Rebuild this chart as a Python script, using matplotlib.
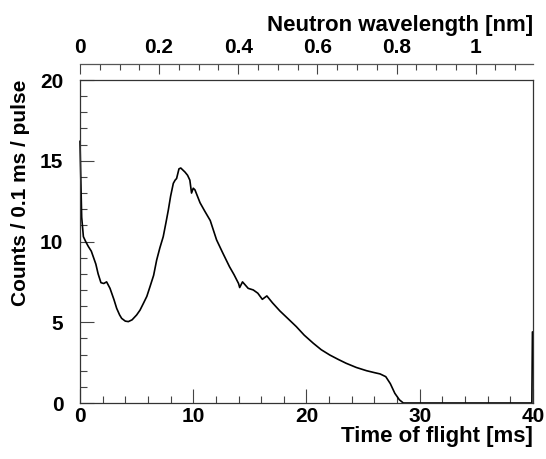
import matplotlib
matplotlib.use('Agg')
import matplotlib.pyplot as plt
from matplotlib.ticker import MultipleLocator

plt.rcParams['font.family'] = ['Liberation Sans', 'DejaVu Sans']
plt.rcParams['font.weight'] = 'bold'

# time of flight [ms] and counts / 0.1 ms / pulse
tof = [0, 0.1, 0.15, 0.3, 0.5, 0.73, 1.0, 1.17, 1.4, 1.6, 1.85, 2.1, 2.35, 2.65,
       3.0, 3.24, 3.5, 3.68, 4.0, 4.27, 4.6, 5.0, 5.3, 5.6, 5.9, 6.18, 6.5, 6.77,
       7.05, 7.35, 7.6, 7.8, 8.0, 8.24, 8.4, 8.53, 8.74, 8.9, 9.27, 9.5, 9.7, 9.85,
       10.0, 10.15, 10.6, 11.0, 11.5, 12.06, 12.6, 13.2, 13.6, 14.0, 14.1, 14.35,
       14.85, 15.3, 15.7, 16.1, 16.5, 17.0, 17.65, 18.4, 19.1, 19.8, 20.6, 21.3,
       22.06, 22.8, 23.5, 24.4, 25.3, 26.0, 26.5, 27.0, 27.4, 27.8, 28.2, 28.55,
       30, 35, 39.9, 39.95, 40]
counts = [16.2, 13.0, 11.5, 10.3, 10.0, 9.7, 9.4, 9.06, 8.6, 8.0, 7.45, 7.4, 7.5, 7.1,
          6.4, 5.86, 5.45, 5.24, 5.07, 5.04, 5.15, 5.45, 5.75, 6.17, 6.6, 7.2, 7.9, 8.85,
          9.6, 10.3, 11.2, 11.95, 12.8, 13.6, 13.8, 13.9, 14.5, 14.55, 14.3, 14.1, 13.8, 13.0,
          13.3, 13.2, 12.4, 11.9, 11.3, 10.1, 9.3, 8.44, 7.95, 7.4, 7.15, 7.5,
          7.1, 7.0, 6.8, 6.42, 6.63, 6.2, 5.7, 5.2, 4.73, 4.2, 3.7, 3.3,
          2.97, 2.7, 2.46, 2.2, 2.0, 1.88, 1.8, 1.63, 1.2, 0.6, 0.2, 0.0,
          0.0, 0.0, 0.0, 4.4, 4.4]

lam_max = 1.145  # wavelength [nm] at 40 ms


def to_lam(t):
    return t * lam_max / 40.0


def to_tof(l):
    return l * 40.0 / lam_max


fig = plt.figure(figsize=(5.46, 4.59), dpi=100)
ax = fig.add_axes([0.1465, 0.122, 0.8297, 0.7037])

ax.plot(tof, counts, color='black', lw=1.2, clip_on=False)

ax.set_xlim(0, 40)
ax.set_ylim(0, 20)
ax.xaxis.set_major_locator(MultipleLocator(10))
ax.xaxis.set_minor_locator(MultipleLocator(2))
ax.yaxis.set_major_locator(MultipleLocator(5))
ax.yaxis.set_minor_locator(MultipleLocator(1))
ax.tick_params(which='both', direction='in', top=False, right=False,
               labelsize=15, color='#444444', width=0.8)
ax.tick_params(which='major', length=10)
ax.tick_params(which='minor', length=5)
ax.tick_params(axis='x', pad=3)
ax.tick_params(axis='y', pad=12)
for s in ax.spines.values():
    s.set_linewidth(0.9)
    s.set_color('#333333')

ax.set_xlabel('Time of flight [ms]', fontsize=16, fontweight='bold', loc='right', labelpad=0)
ax.set_ylabel('Counts / 0.1 ms / pulse', fontsize=15, fontweight='bold', loc='top', labelpad=7)

top = ax.secondary_xaxis(1.05, functions=(to_lam, to_tof))
top.xaxis.set_major_locator(MultipleLocator(0.2))
top.xaxis.set_minor_locator(MultipleLocator(0.05))
top.tick_params(which='both', direction='in', labelsize=15, color='#444444', width=0.8, pad=5)
top.tick_params(which='major', length=7)
top.tick_params(which='minor', length=4)
top.spines['top'].set_linewidth(0.9)
top.spines['top'].set_color('#555555')
top.set_xticks([0, 0.2, 0.4, 0.6, 0.8, 1.0], ['0', '0.2', '0.4', '0.6', '0.8', '1'])
top.set_xlabel('Neutron wavelength [nm]', fontsize=16, fontweight='bold', loc='right', labelpad=5)

fig.savefig('out.png', dpi=100)
